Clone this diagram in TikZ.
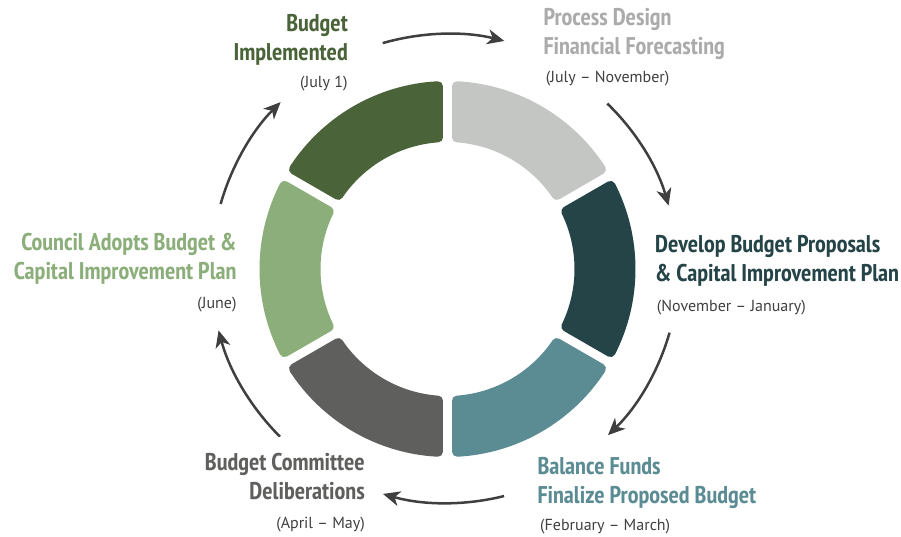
\documentclass[tikz,border=0pt]{standalone}
\usepackage{fontspec}
\setmainfont{PT Sans}
\newfontfamily\narrowfont{PT Sans Narrow}
\usetikzlibrary{arrows.meta}

\definecolor{implgreen}{HTML}{4A6339}
\definecolor{designgray}{HTML}{C4C6C4}
\definecolor{designtext}{HTML}{ABABAB}
\definecolor{proposalteal}{HTML}{254448}
\definecolor{balanceteal}{HTML}{5B8C93}
\definecolor{committeegray}{HTML}{5F5F5D}
\definecolor{adoptgreen}{HTML}{8BAE7A}
\definecolor{dategray}{HTML}{3F3F3F}

% ring part: colour, start angle, end angle (corners rounded by the thick border)
\def\ringpart#1#2#3{\filldraw[fill=#1, draw=#1, line width=10pt, line join=round] (#2+2.98:183) arc (#2+2.98:#3-2.98:183) -- (#3-4.13:132) arc (#3-4.13:#2+4.13:132) -- cycle;}

\tikzset{
  title/.style={font=\narrowfont\bfseries\fontsize{24.2}{29}\selectfont, inner sep=0pt},
  date/.style={font=\fontsize{16}{19}\selectfont, text=dategray, inner sep=0pt},
  cyclearrow/.style={draw=dategray, line width=2.5pt, -{Stealth[length=17pt,width=15pt,inset=5pt]}}
}

\begin{document}
\begin{tikzpicture}[x=1pt, y=1pt]
			%%%%% RING %%%%%
			\useasboundingbox (-447.5,-268) rectangle (453.5,269);
			
			\ringpart{implgreen}{90}{150}
			\ringpart{designgray}{30}{90}
			\ringpart{proposalteal}{-30}{30}
			\ringpart{balanceteal}{-90}{-30}
			\ringpart{committeegray}{-150}{-90}
			\ringpart{adoptgreen}{150}{210}
			
			%%%%% LABELS %%%%% (base anchor sits on the last line)
			\node[title, text=implgreen, align=right, anchor=base east] (implemented) at (-99.5, 208) {Budget\\Implemented};
			\node[date, anchor=base east] (implementeddate) at (-99.8, 181) {(July 1)};
			
			\node[title, text=designtext, align=left, anchor=base west] (design) at (95.8, 214) {Process Design\\Financial Forecasting};
			\node[date, anchor=base west] (designdate) at (98.2, 186) {(July – November)};
			
			\node[title, text=proposalteal, align=left, anchor=base west] (proposals) at (207.5, -12.7) {Develop Budget Proposals\\\& Capital Improvement Plan};
			\node[date, anchor=base west] (proposalsdate) at (209.2, -42.7) {(November – January)};
			
			\node[title, text=balanceteal, align=left, anchor=base west] (balance) at (89.8, -234.3) {Balance Funds\\Finalize Proposed Budget};
			\node[date, anchor=base west] (balancedate) at (92.5, -261) {(February – March)};
			
			\node[title, text=committeegray, align=right, anchor=base east] (committee) at (-82.5, -230.3) {Budget Committee\\Deliberations};
			\node[date, anchor=base east] (committeedate) at (-82.5, -259.3) {(April – May)};
			
			\node[title, text=adoptgreen, align=right, anchor=base east] (adopts) at (-210.8, -11) {Council Adopts Budget \&\\Capital Improvement Plan};
			\node[date, anchor=base east] (adoptsdate) at (-210.8, -39.3) {(June)};
			
			%%%%% ARROWS %%%%%
			\coordinate (implstart) at (106:235);
			\coordinate (designstart) at (46:230);
			\coordinate (proposalsstart) at (-16:231);
			\coordinate (balancestart) at (-76:234);
			\coordinate (committeestart) at (-135:237);
			\coordinate (adoptsstart) at (164:236);
			
			\draw[cyclearrow] (implstart) arc (106:76:235);
			\draw[cyclearrow] (designstart) arc (46:16:230);
			\draw[cyclearrow] (proposalsstart) arc (-16:-46:231);
			\draw[cyclearrow] (balancestart) arc (-76:-106:234);
			\draw[cyclearrow] (committeestart) arc (-135:-165:237);
			\draw[cyclearrow] (adoptsstart) arc (164:135:236);
			
\end{tikzpicture}
\end{document}
